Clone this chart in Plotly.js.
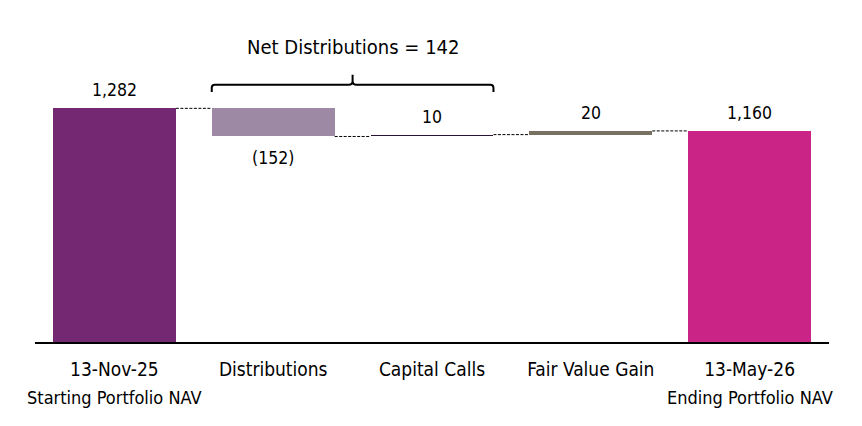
<!DOCTYPE html>
<html>
<head>
<meta charset="utf-8">
<script src="https://cdn.plot.ly/plotly-3.0.1.min.js"></script>
<style>
  html, body { margin: 0; padding: 0; background: #ffffff; }
  #chart { width: 862px; height: 426px; }
</style>
</head>
<body>
<div id="chart"></div>
<script>
// NAV bridge: starting NAV, movements, ending NAV
const categories = ['13-Nov-25', 'Distributions', 'Capital Calls', 'Fair Value Gain', '13-May-26'];
const subLabels = ['Starting Portfolio NAV', '', '', '', 'Ending Portfolio NAV'];
const startNav = 1282;
const movements = [-152, 10, 20];          // distributions, capital calls, fair value gain
const barColors = ['#732871', '#9d89a4', '#2b1537', '#787060', '#ca2486'];

const FONT = "'Liberation Sans Narrow', 'DejaVu Sans Condensed', 'Arial Narrow', sans-serif";
const BAR_W = 0.774;

// Build floating bars: totals sit on zero, movements float on the running total
const endNav = movements.reduce((a, b) => a + b, startNav);
const values = [startNav, ...movements, endNav];
const bases = [];
const levels = [];            // running total after each bar
let running = 0;
values.forEach((v, i) => {
  const isTotal = i === 0 || i === values.length - 1;
  if (isTotal) {
    bases.push(0);
    running = v;
  } else {
    bases.push(running);
    running += v;
  }
  levels.push(running);
});
const xs = categories.map((_, i) => i);

const fmt = v => {
  const s = Math.abs(v).toLocaleString('en-US');
  return v < 0 ? '(' + s + ')' : s;
};

const traces = [{
  type: 'bar',
  x: xs,
  y: values,
  base: bases,
  width: BAR_W,
  marker: { color: barColors, line: { width: 0 } },
  hoverinfo: 'skip'
}];

// Value labels: above the bar top, or below for decreases
const annotations = values.map((v, i) => {
  const top = Math.max(bases[i], bases[i] + v);
  const bottom = Math.min(bases[i], bases[i] + v);
  const neg = v < 0;
  return {
    x: i, y: neg ? bottom : top, xref: 'x', yref: 'y',
    text: fmt(v), showarrow: false,
    font: { family: FONT, size: 17.5, color: '#000' },
    yanchor: 'middle', yshift: neg ? -22 : 18
  };
});

// Second line of the category labels
subLabels.forEach((t, i) => {
  if (!t) return;
  annotations.push({
    x: i, y: 0, xref: 'x', yref: 'paper', text: t, showarrow: false,
    font: { family: FONT, size: 18, color: '#000' },
    yanchor: 'middle', yshift: -55
  });
});

// Net distributions bracket over the two cash-flow bars
const netDist = -(movements[0] + movements[1]);
const bx0 = 1 - BAR_W / 2, bx1 = 2 + BAR_W / 2, bm = (1 + 2) / 2;
const yH = 0.9125, yEnd = 0.8865, yTop = 0.948;
const rx = 0.02, ry = 0.011;
const bracketPath =
  `M ${bx0},${yEnd} L ${bx0},${yH - ry} Q ${bx0},${yH} ${bx0 + rx},${yH} ` +
  `L ${bm - rx},${yH} Q ${bm},${yH} ${bm},${yH + ry} L ${bm},${yTop} ` +
  `M ${bm},${yH + ry} Q ${bm},${yH} ${bm + rx},${yH} ` +
  `L ${bx1 - rx},${yH} Q ${bx1},${yH} ${bx1},${yH - ry} L ${bx1},${yEnd}`;

annotations.push({
  x: bm, y: 1, xref: 'x', yref: 'paper',
  text: 'Net Distributions = ' + netDist.toLocaleString('en-US'),
  showarrow: false, yanchor: 'middle', yshift: 13,
  font: { family: FONT, size: 20, color: '#000' }
});

const shapes = [{
  type: 'path', xref: 'x', yref: 'paper', path: bracketPath,
  line: { color: '#000', width: 2 }
}];

// Dashed connectors between neighbouring bars at the running level
for (let i = 0; i < values.length - 1; i++) {
  shapes.push({
    type: 'line', xref: 'x', yref: 'y',
    x0: i + BAR_W / 2, x1: i + 1 - BAR_W / 2,
    y0: levels[i], y1: levels[i],
    line: { color: '#000', width: 1, dash: '3px,1.5px' }
  });
}

const layout = {
  width: 862, height: 426,
  margin: { l: 35, r: 33, t: 60, b: 84 },
  paper_bgcolor: '#ffffff', plot_bgcolor: '#ffffff',
  showlegend: false,
  bargap: 0,
  xaxis: {
    type: 'linear', range: [-0.5, 4.5],
    tickvals: xs, ticktext: categories,
    showgrid: false, zeroline: false,
    showline: true, linecolor: '#000', linewidth: 2,
    ticks: '', ticklabelstandoff: 9,
    tickfont: { family: FONT, size: 19, color: '#000' },
    fixedrange: true
  },
  yaxis: {
    range: [20, 1543], visible: false, showgrid: false, zeroline: false,
    fixedrange: true
  },
  annotations: annotations,
  shapes: shapes
};

Plotly.newPlot('chart', traces, layout, { displayModeBar: false, staticPlot: true });
</script>
</body>
</html>
